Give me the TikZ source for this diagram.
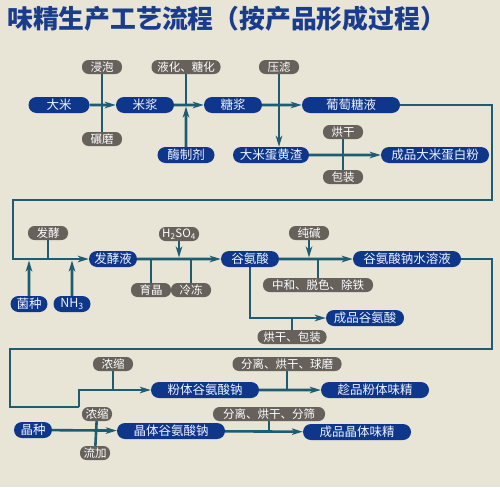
\documentclass[tikz,border=0pt]{standalone}
\usepackage{fontspec}
\setmainfont{Noto Sans CJK SC}
\usetikzlibrary{shapes.misc,arrows.meta}
\pgfdeclarelayer{lines}
\pgfsetlayers{lines,main}
\definecolor{bgc}{RGB}{232,228,214}
\definecolor{nblue}{RGB}{14,54,138}
\definecolor{ntext}{RGB}{238,242,255}
\definecolor{ngray}{RGB}{102,97,91}
\definecolor{lcol}{RGB}{30,92,114}
\definecolor{tcol}{RGB}{26,60,140}
\begin{document}
\begin{tikzpicture}[x=1pt,y=-1pt,
  bn/.style={rounded rectangle, fill=nblue, text=ntext, minimum height=16pt, inner xsep=1pt, inner ysep=0pt, font=\fontsize{12.5}{14}\selectfont},
  gn/.style={rectangle, rounded corners=6.5pt, fill=ngray, text=white, minimum height=14pt, minimum width=40pt, inner xsep=3pt, inner ysep=0pt, font=\fontsize{11.5}{13}\selectfont},
  ln/.style={draw=lcol, line width=2.6pt},
  arr/.style={ln, -{Stealth[length=11pt,width=6.5pt,inset=3pt]}},
]
\begin{pgfonlayer}{lines}
\fill[bgc] (0,0) rectangle (500,487);
\end{pgfonlayer}
\useasboundingbox (0,0) rectangle (500,487);

\node[anchor=west, text=tcol, font=\fontsize{25.8}{29}\selectfont\bfseries, inner sep=0pt] (title) at (7,19) {味精生产工艺流程（按产品形成过程）};

% ---------- row 1 ----------
\node[bn, minimum width=63pt] (dami) at (59,105) {大米};
\node[bn, minimum width=60pt] (mijiang) at (145,105) {米浆};
\node[bn, minimum width=60pt] (tangjiang) at (233,105) {糖浆};
\node[bn, minimum width=100pt] (ptt) at (351,105) {葡萄糖液};
\node[gn] (jinpao) at (102,67) {浸泡};
\node[gn] (nianmo) at (102,139) {碾磨};
\node[gn, minimum width=69pt] (yehua) at (186,67) {液化、糖化};
\node[bn, minimum width=59pt] (mei) at (186,155) {酶制剂};
\node[gn] (yalv) at (279,67) {压滤};
\node[bn, minimum width=78pt] (zha) at (271,155) {大米蛋黄渣};
\node[gn] (hong1) at (343,132) {烘干};
\node[gn] (bao1) at (343,177) {包装};
\node[bn, minimum width=110pt] (dbf) at (435,155) {成品大米蛋白粉};

% ---------- row 2 ----------
\node[bn, minimum width=50pt] (fjy) at (113,259) {发酵液};
\node[gn] (fj) at (48,233) {发酵};
\node[bn, minimum width=39pt] (jz) at (29,304) {菌种};
\node[bn, minimum width=39pt] (nh3) at (72,304) {NH\textsubscript{3}};
\node[gn] (h2so4) at (179,234) {H\textsubscript{2}SO\textsubscript{4}};
\node[gn] (yj) at (151,290) {育晶};
\node[gn] (ld) at (191,290) {冷冻};
\node[bn, minimum width=60pt] (gas) at (250,259) {谷氨酸};
\node[gn] (cj) at (309,233) {纯碱};
\node[gn, minimum width=110pt] (zh) at (318,285) {中和、脱色、除铁};
\node[bn, minimum width=110pt] (gasn) at (407,259) {谷氨酸钠水溶液};
\node[bn, minimum width=80pt] (cpgas) at (365,318) {成品谷氨酸};
\node[gn, minimum width=69pt] (hb) at (292,337) {烘干、包装};

% ---------- row 3 ----------
\node[gn] (ns1) at (113,364) {浓缩};
\node[bn, minimum width=110pt] (ftg) at (205,390) {粉体谷氨酸钠};
\node[gn, minimum width=109pt] (flq) at (287,364) {分离、烘干、球磨};
\node[bn, minimum width=110pt] (cpft) at (375,390) {趁品粉体味精};
\node[bn, minimum width=40pt] (jzz) at (33,430) {晶种};
\node[gn, minimum width=30pt] (ns2) at (97,414) {浓缩};
\node[gn, minimum width=30pt] (lj) at (95,453) {流加};
\node[bn, minimum width=110pt] (jtg) at (171,431) {晶体谷氨酸钠};
\node[gn, minimum width=112pt] (flf) at (269,414) {分离、烘干、分筛};
\node[bn, minimum width=110pt] (cpjt) at (357,432) {成品晶体味精};

\coordinate (c1) at (492,200);
\coordinate (c2) at (13,200);
\coordinate (c4) at (492,349);
\coordinate (c5) at (10,349);
\coordinate (c6) at (10,407);
\coordinate (c7) at (79,407);

\begin{pgfonlayer}{lines}
% row 1 connectors
\draw[ln] (jinpao) -- (nianmo);
\draw[arr] (dami) -- (mijiang);
\draw[ln] (yehua) -- (yehua |- mijiang);
\draw[arr] (mei) -- ([yshift=-1.5pt]mei |- mijiang);
\draw[arr] (mijiang) -- (tangjiang);
\draw[arr] (yalv) -- (yalv |- zha.north);
\draw[arr] (tangjiang) -- (ptt);
\draw[ln] (hong1) -- (bao1);
\draw[arr] (zha) -- (dbf);
\draw[arr] (ptt.east) -| (c1) -- (c2) |- (fjy.west);
% row 2 connectors
\draw[ln] (fj) -- (fj |- fjy);
\draw[arr] (jz) -- ([yshift=-1.5pt]jz |- fjy);
\draw[arr] (nh3) -- ([yshift=-1.5pt]nh3 |- fjy);
\draw[ln] (yj |- fjy) -- (yj);
\draw[ln] (ld |- fjy) -- (ld);
\draw[arr] (h2so4) -- ([yshift=1.5pt]h2so4 |- fjy);
\draw[arr] (fjy) -- (gas);
\draw[ln] (zh |- gas) -- (zh);
\draw[arr] (cj) -- ([yshift=1.5pt]cj |- gas);
\draw[arr] (gas) -- (gasn);
\draw[ln] (hb |- cpgas) -- (hb);
\draw[arr] (gas.south) |- (cpgas.west);
% row 3 connectors
\draw[ln] (gasn.east) -| (c4) -- (c5) -- (c6) -- (c7);
\draw[ln] (ns1) -- (ns1 |- ftg);
\draw[arr] (c7) |- (ftg.west);
\draw[ln] (flq) -- (flq |- cpft);
\draw[arr] (ftg) -- (cpft);
\draw[ln] (ns2) -- (lj);
\draw[arr] (jzz) -- (jtg);
\draw[ln] (flf) -- (flf |- cpjt);
\draw[arr] (jtg) -- (cpjt);
\end{pgfonlayer}
\end{tikzpicture}
\end{document}
